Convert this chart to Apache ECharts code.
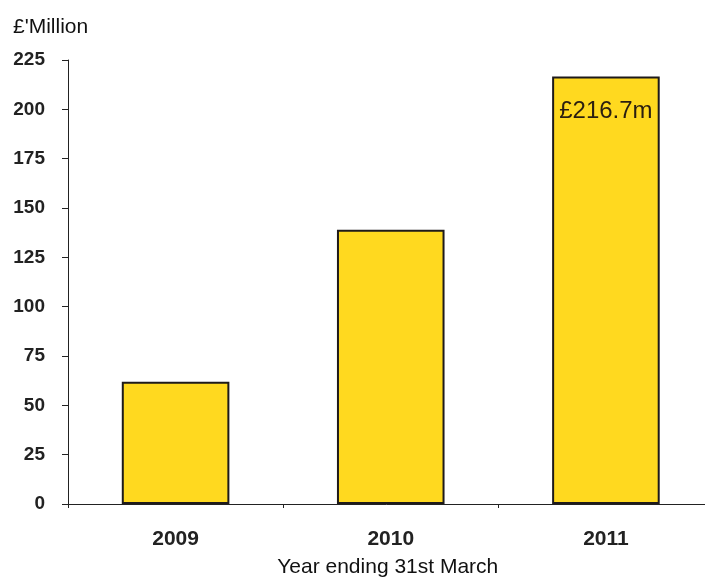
<!DOCTYPE html>
<html><head><meta charset="utf-8">
<script src="https://cdn.jsdelivr.net/npm/echarts@6/dist/echarts.min.js"></script>
<style>html,body{margin:0;padding:0;background:#fff}#c{width:705px;height:579px}</style>
</head><body><div id="c"></div>
<script>
const categories = ['2009', '2010', '2011'];
const values = [62, 139, 216.7];
const barLabels = ['', '', '£216.7m'];
const yMin = 0, yMax = 225, yStep = 25;

const chart = echarts.init(document.getElementById('c'), null, {renderer: 'canvas'});
const font = '"Liberation Sans", Arial, sans-serif';
chart.setOption({
  animation: false,
  backgroundColor: '#fff',
  grid: {left: 68, right: -8.5, top: 60, bottom: 75, containLabel: false, outerBoundsMode: 'none'},
  title: {text: "£'Million", left: 8, top: 12, textStyle: {fontFamily: font, fontSize: 21, fontWeight: 'normal', color: '#111'}},
  xAxis: {
    type: 'category', data: categories,
    name: 'Year ending 31st March', nameLocation: 'middle', nameGap: 53,
    nameTextStyle: {fontFamily: font, fontSize: 21, color: '#111', padding: [0, 6, 0, 0]},
    axisLine: {lineStyle: {color: '#222', width: 1}},
    axisTick: {show: true, length: 4, lineStyle: {color: '#222'}},
    axisLabel: {fontFamily: font, fontSize: 21, fontWeight: 'bold', color: '#222', margin: 25}
  },
  yAxis: {
    type: 'value', min: yMin, max: yMax, interval: yStep,
    axisLine: {show: true, lineStyle: {color: '#222', width: 1}},
    axisTick: {show: true, length: 6, lineStyle: {color: '#222'}},
    splitLine: {show: false},
    axisLabel: {fontFamily: font, fontSize: 19, fontWeight: 'bold', color: '#222', margin: 23}
  },
  series: [{
    type: 'bar', data: values, barWidth: '50%',
    itemStyle: {color: '#FFD91F', borderColor: '#1e1a1a', borderWidth: 2},
    label: {show: true, position: 'insideTop', distance: 23,
      formatter: p => barLabels[p.dataIndex],
      fontFamily: font, fontSize: 24, color: '#2a1e10'}
  }]
});
</script>
</body></html>
